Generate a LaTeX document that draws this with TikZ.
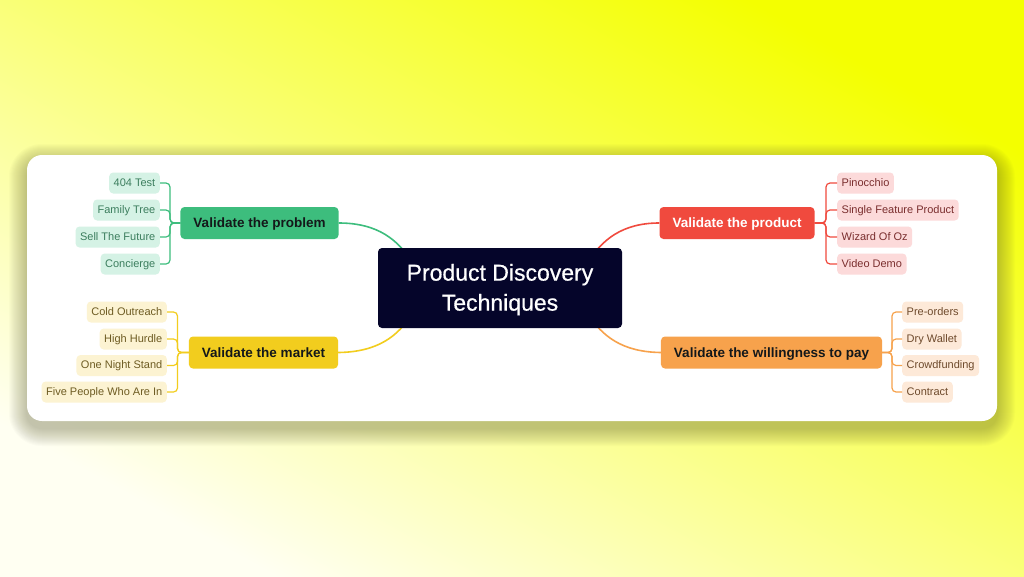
\documentclass[tikz,border=0pt]{standalone}
\usepackage{fontspec}
\setmainfont{Liberation Sans}
\newfontfamily\centralfont[FakeBold=0.6]{Liberation Sans}
\usetikzlibrary{backgrounds}
\definecolor{gmain}{HTML}{3DBD7D}
\definecolor{gleaf}{HTML}{D5F2E5}
\definecolor{gtext}{HTML}{3C7E5E}
\definecolor{ymain}{HTML}{F2CD1E}
\definecolor{yleaf}{HTML}{FCF3D2}
\definecolor{ytext}{HTML}{6E5C23}
\definecolor{rmain}{HTML}{F04A3E}
\definecolor{rleaf}{HTML}{FCDADA}
\definecolor{rtext}{HTML}{7A2E2E}
\definecolor{omain}{HTML}{F7A24C}
\definecolor{oleaf}{HTML}{FDE9D8}
\definecolor{otext}{HTML}{6E4A2C}
\definecolor{cnavy}{HTML}{05052A}
\definecolor{bgA}{HTML}{FFFFF2}
\definecolor{bgB}{HTML}{F4FF00}
\definecolor{darktxt}{HTML}{14181A}
\definecolor{shadowc}{HTML}{50502A}
\tikzset{
  mainnode/.style={rounded corners=4pt, minimum height=32pt, inner xsep=13pt,
    font=\fontsize{13.5}{16}\selectfont\bfseries, text height=10pt, text depth=0.5pt},
  leafnode/.style={rounded corners=4pt, minimum height=21pt, inner xsep=4.5pt,
    font=\fontsize{11}{13}\selectfont, text height=8pt, text depth=1.2pt},
  branch/.style={line width=1.6pt},
  twig/.style={line width=1.2pt, rounded corners=4pt},
}
\begin{document}
\begin{tikzpicture}[x=1pt,y=-1pt]
\useasboundingbox (0,0) rectangle (1024,576);
\begin{scope}[on background layer]
\shade[bottom color=bgA, top color=bgB, shading angle=-29] (0,0) rectangle (1024,576);
\foreach \i in {1,...,18}
  \fill[shadowc, opacity=0.018, rounded corners=15pt+\i pt] (27-\i,155-\i+7) rectangle (997+\i,421+\i+7);
\fill[white, rounded corners=15pt] (27,155) rectangle (997,421);
\end{scope}

% central
\node[fill=cnavy, rounded corners=4pt, minimum width=244pt, minimum height=80pt,
  text=white, align=center, font=\centralfont\fontsize{23}{30}\selectfont] (central) at (500,288)
  {\rule{0pt}{20pt}Product Discovery\\Techniques};
\coordinate (cg) at (412,262);
\coordinate (cy) at (412,314);
\coordinate (cr) at (588,262);
\coordinate (co) at (588,314);

% main nodes
\node[mainnode, fill=gmain, text=darktxt] (prob) at (259.5,223) {Validate the problem};
\node[mainnode, fill=ymain, text=darktxt] (mark) at (263.5,352.5) {Validate the market};
\node[mainnode, fill=rmain, text=white] (prod) at (737,223) {Validate the product};
\node[mainnode, fill=omain, text=darktxt] (pay) at (771.5,352.5) {Validate the willingness to pay};

\begin{scope}[on background layer]
\draw[branch, gmain] (prob.east) .. controls (378,223) and (398,240) .. (cg);
\draw[branch, ymain] (mark.east) .. controls (378,352) and (398,336) .. (cy);
\draw[branch, rmain] (prod.west) .. controls (622,223) and (602,240) .. (cr);
\draw[branch, omain] (pay.west) .. controls (622,352) and (602,336) .. (co);
\end{scope}

% green leaves
\node[leafnode, fill=gleaf, text=gtext, anchor=east] (g1) at (160,183) {404 Test};
\node[leafnode, fill=gleaf, text=gtext, anchor=east] (g2) at (160,210) {Family Tree};
\node[leafnode, fill=gleaf, text=gtext, anchor=east] (g3) at (160,237) {Sell The Future};
\node[leafnode, fill=gleaf, text=gtext, anchor=east] (g4) at (160,264) {Concierge};
\foreach \l in {g1,g2,g3,g4}
  \draw[twig, gmain] (prob.west) -- (170,223) |- (\l.east);

% yellow leaves
\node[leafnode, fill=yleaf, text=ytext, anchor=east] (y1) at (167,312) {Cold Outreach};
\node[leafnode, fill=yleaf, text=ytext, anchor=east] (y2) at (167,339) {High Hurdle};
\node[leafnode, fill=yleaf, text=ytext, anchor=east] (y3) at (167,365.5) {One Night Stand};
\node[leafnode, fill=yleaf, text=ytext, anchor=east] (y4) at (167,392) {Five People Who Are In};
\foreach \l in {y1,y2,y3,y4}
  \draw[twig, ymain] (mark.west) -- (177.5,352.5) |- (\l.east);

% red leaves
\node[leafnode, fill=rleaf, text=rtext, anchor=west] (r1) at (837,183) {Pinocchio};
\node[leafnode, fill=rleaf, text=rtext, anchor=west] (r2) at (837,210) {Single Feature Product};
\node[leafnode, fill=rleaf, text=rtext, anchor=west] (r3) at (837,237) {Wizard Of Oz};
\node[leafnode, fill=rleaf, text=rtext, anchor=west] (r4) at (837,264) {Video Demo};
\foreach \l in {r1,r2,r3,r4}
  \draw[twig, rmain] (prod.east) -- (826,223) |- (\l.west);

% orange leaves
\node[leafnode, fill=oleaf, text=otext, anchor=west] (o1) at (902,312) {Pre-orders};
\node[leafnode, fill=oleaf, text=otext, anchor=west] (o2) at (902,339) {Dry Wallet};
\node[leafnode, fill=oleaf, text=otext, anchor=west] (o3) at (902,365.5) {Crowdfunding};
\node[leafnode, fill=oleaf, text=otext, anchor=west] (o4) at (902,392) {Contract};
\foreach \l in {o1,o2,o3,o4}
  \draw[twig, omain] (pay.east) -- (892,352.5) |- (\l.west);
\end{tikzpicture}
\end{document}
